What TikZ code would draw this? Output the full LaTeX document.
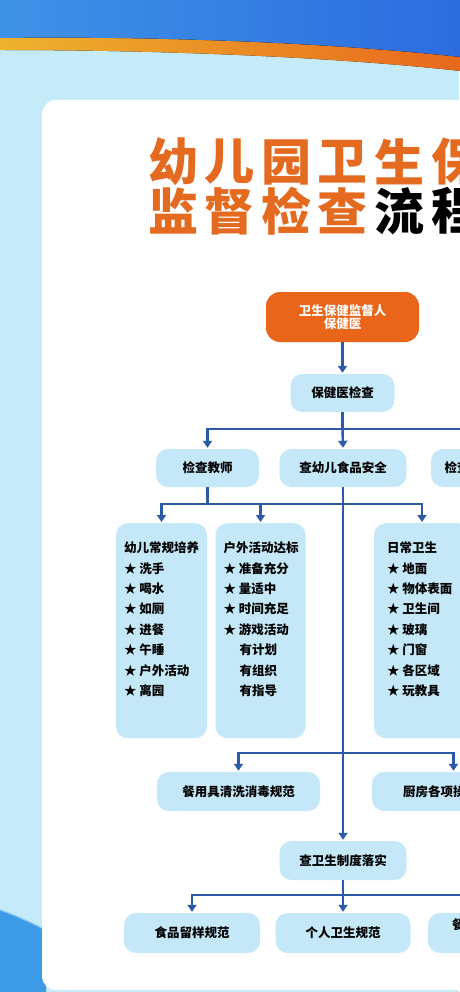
\documentclass[tikz,border=0pt]{standalone}
\usepackage{fontspec}
\usepackage{tikz}
\usetikzlibrary{arrows.meta}
\newfontfamily\cjk{Noto Sans CJK SC}

\definecolor{bgcyan}{HTML}{C6EBF8}
\definecolor{boxblue}{HTML}{C4E8F8}
\definecolor{linkblue}{HTML}{2C5AA6}
\definecolor{headorange}{HTML}{E8651A}
\definecolor{titleorange}{HTML}{E36A1E}
\definecolor{bannerL}{HTML}{3E93E6}
\definecolor{bannerR}{HTML}{2C6BE0}
\definecolor{stripeL}{HTML}{EDB22E}
\definecolor{stripeR}{HTML}{E8671C}
\definecolor{waveblue}{HTML}{3D9AE6}
\definecolor{waveline}{HTML}{8CCBF2}

\begin{document}
\begin{tikzpicture}[x=1pt, y=-1pt,
    stepbox/.style={fill=boxblue, rounded corners=12pt, minimum height=38pt, inner sep=0pt,
      font=\cjk\bfseries\fontsize{12.5}{14}\selectfont},
    headbox/.style={fill=headorange, text=white, rounded corners=14pt, minimum width=153pt,
      minimum height=50pt, align=center, font=\cjk\bfseries\fontsize{12.5}{13.5}\selectfont},
    listbox/.style={fill=boxblue, rounded corners=12pt, anchor=north, inner ysep=0pt,
      font=\cjk\bfseries\fontsize{12.5}{20.4}\selectfont},
    titlechar/.style={inner sep=0pt, font=\cjk\bfseries\fontsize{50}{50}\selectfont},
    link/.style={draw=linkblue, line width=2.4pt},
    flow/.style={link, shorten >=1pt, -{Triangle[width=9pt,length=7pt]}}]
    \useasboundingbox (0,0) rectangle (459,992);

    % background, banner and wave
    \fill[bgcyan] (0,0) rectangle (459,992);
    \fill[left color=stripeL, right color=stripeR]
      (0,36) .. controls (150,36) and (330,42) .. (470,58) -- (470,72)
      .. controls (330,56) and (150,50) .. (0,50) -- cycle;
    \fill[left color=bannerL, right color=bannerR]
      (0,0) -- (470,0) -- (470,58) .. controls (330,42) and (150,36) .. (0,38) -- cycle;
    \fill[waveblue] (0,910) .. controls (15,915) and (30,922) .. (46,930) -- (46,992) -- (0,992) -- cycle;
    \draw[waveline, line width=1.2pt] (0,910) .. controls (15,915) and (30,922) .. (46,930);

    % white card
    \fill[white, rounded corners=14pt] (42,100) rectangle (490,990);

    % title
    \foreach \ch [count=\i] in {幼,儿,园,卫,生,保}
      \node[titlechar, text=titleorange] (ta\i) at ({173+56.6*(\i-1)},162) {\ch};
    \foreach \ch/\col [count=\i] in {监/titleorange,督/titleorange,检/titleorange,查/titleorange,流/black,程/black}
      \node[titlechar, text=\col] (tb\i) at ({173+56.6*(\i-1)},211) {\ch};

    % top boxes
    \node[headbox] (boss) at (342.5,317) {卫生保健监督人\\保健医};
    \node[stepbox, minimum width=104pt] (doctor) at (342.5,393) {保健医检查};

    % second row
    \node[stepbox, minimum width=103pt] (teacher) at (207.5,468) {检查教师};
    \node[stepbox, minimum width=127pt] (food) at (343,468) {查幼儿食品安全};
    \node[stepbox, minimum width=127pt, text width=100pt, align=left] (envchk) at (494.5,468) {检查};

    % list boxes
    \node[listbox, inner xsep=8pt] (routine) at (161.5,523) {\parbox[t][215pt][t]{75pt}{%
      \rule{0pt}{29.5pt}幼儿常规培养\\ ★ 洗手\\ ★ 喝水\\ ★ 如厕\\ ★ 进餐\\ ★ 午睡\\ ★ 户外活动\\ ★ 离园}};
    \node[listbox, inner xsep=8pt] (outdoor) at (260.5,523) {\parbox[t][215pt][t]{74pt}{%
      \rule{0pt}{29.5pt}户外活动达标\\ ★ 准备充分\\ ★ 量适中\\ ★ 时间充足\\ ★ 游戏活动\\
      \hspace*{16pt}有计划\\ \hspace*{16pt}有组织\\ \hspace*{16pt}有指导}};
    \node[listbox, inner xsep=13pt] (daily) at (422,523) {\parbox[t][215pt][t]{70pt}{%
      \rule{0pt}{29.5pt}日常卫生\\ ★ 地面\\ ★ 物体表面\\ ★ 卫生间\\ ★ 玻璃\\ ★ 门窗\\ ★ 各区域\\ ★ 玩教具}};

    % kitchen row
    \node[stepbox, minimum width=163pt, minimum height=39pt] (tableware) at (238.5,791.5) {餐用具清洗消毒规范};
    \node[stepbox, minimum width=163pt, minimum height=39pt, text width=101pt, align=left] (kitchen) at (453.5,791.5) {厨房各项操};

    % system row
    \node[stepbox, minimum width=127pt, minimum height=39pt] (system) at (343,860.5) {查卫生制度落实};
    \node[stepbox, minimum width=136pt, minimum height=40pt] (sample) at (192,933) {食品留样规范};
    \node[stepbox, minimum width=135pt, minimum height=40pt] (hygiene) at (343,933) {个人卫生规范};
    \node[stepbox, minimum width=136pt, minimum height=40pt, text width=88pt, align=left] (tail) at (496,933) {餐\\\strut};

    % bus points
    \coordinate (busA) at (342.5,429);
    \coordinate (busB) at (207.5,504);
    \coordinate (busC) at (343,753);
    \coordinate (busD) at (343,895);

    % arrows
    \draw[flow] (boss) -- (doctor);
    \draw[link] (doctor) -- (busA);
    \draw[flow] (busA) -| (teacher.north);
    \draw[flow] (busA) -- (food.north);
    \draw[flow] (busA) -| (envchk.north);

    \draw[link] (teacher) -- (busB);
    \draw[link] (envchk) -- (envchk.south |- busB);
    \draw[flow] (busB) -| (routine.north);
    \draw[flow] (busB) -| (outdoor.north);
    \draw[flow] (busB) -| (daily.north);

    \draw[flow] (food) -- (system);
    \draw[flow] (busC) -| (tableware.north);
    \draw[flow] (busC) -| (kitchen.north);

    \draw[link] (system) -- (busD);
    \draw[flow] (busD) -| (sample.north);
    \draw[flow] (busD) -- (hygiene.north);
    \draw[flow] (busD) -| (tail.north);
\end{tikzpicture}
\end{document}
